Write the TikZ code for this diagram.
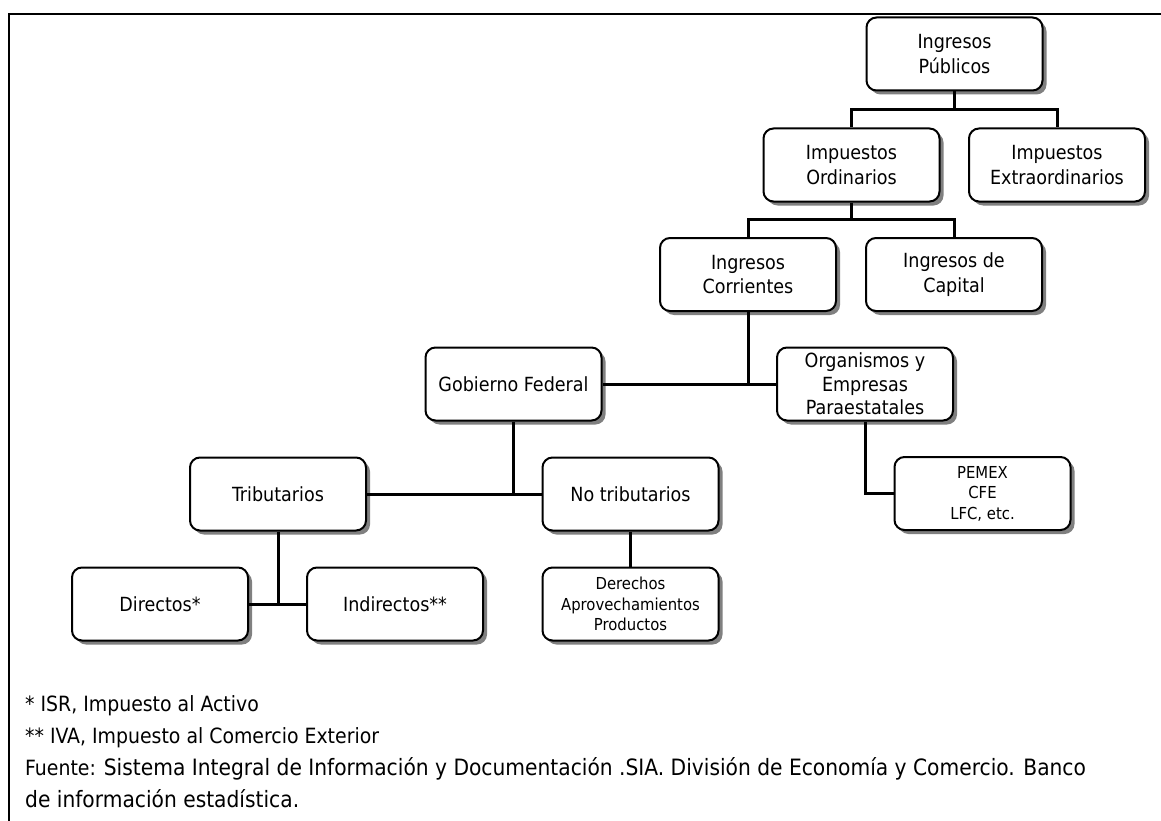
\documentclass[tikz,border=0pt]{standalone}
\usepackage{fontspec}
\setmainfont{DejaVu Sans Condensed}
\usetikzlibrary{shadows}

\newcommand\srcfont{\fontsize{22.5}{26}\selectfont}

\tikzset{
  box/.style={draw, line width=2pt, rounded corners=10pt, fill=white,
    minimum width=176pt, minimum height=73pt, inner sep=0pt, align=center,
    font=\fontsize{19.5}{24.5}\selectfont,
    drop shadow={shadow xshift=4pt, shadow yshift=-4pt, fill=black!50, opacity=1}},
  smallbox/.style={box, font=\fontsize{16.5}{20.5}\selectfont},
  tallbox/.style={box, font=\fontsize{19.5}{23.5}\selectfont},
  conn/.style={line width=3pt},
  frame/.style={line width=2.6pt},
  note/.style={anchor=base west, inner sep=0pt, font=\fontsize{21}{24}\selectfont},
}

\begin{document}
\begin{tikzpicture}[x=1pt, y=-1pt]
  \useasboundingbox (0,0) rectangle (1161,821);

  % open frame: top and left rules
  \coordinate (fr1) at (1161,14);
  \coordinate (fr2) at (9,14);
  \coordinate (fr3) at (9,821);
  \draw[frame] (fr1) -- (fr2) -- (fr3);

  % boxes
  \node[box] (pub)  at (954.5,54)  {Ingresos\\Públicos};
  \node[box] (ord)  at (851.5,165) {Impuestos\\Ordinarios};
  \node[box] (ext)  at (1057,165)  {Impuestos\\Extraordinarios};
  \node[box] (cor)  at (748,274.5) {Ingresos\\Corrientes};
  \node[box] (cap)  at (954,274.5) {Ingresos de\\Capital};
  \node[box] (gob)  at (513.5,384) {Gobierno Federal};
  \node[tallbox] (org) at (865,384) {Organismos y\\Empresas\\Paraestatales};
  \node[box] (trib) at (278,494)   {Tributarios};
  \node[box] (notr) at (630.5,494) {No tributarios};
  \node[smallbox] (pem) at (982.5,493.5) {PEMEX\\CFE\\LFC, etc.};
  \node[box] (dir)  at (160,604)   {Directos*};
  \node[box] (ind)  at (395,604)   {Indirectos**};
  \node[smallbox] (der) at (630.5,604) {Derechos\\Aprovechamientos\\Productos};

  % junction points
  \coordinate (j1) at (954.5,110);
  \coordinate (j2) at (851.5,219);

  % connectors
  \draw[conn] (pub.south) -- (j1);
  \draw[conn] (ord.north) |- (j1) -| (ext.north);
  \draw[conn] (ord.south) -- (j2);
  \draw[conn] (cor.north) |- (j2) -| (cap.north);
  \draw[conn] (gob.east) -- (org.west);
  \draw[conn] (cor.south) -- (cor.south |- gob.east);
  \draw[conn] (org.south) |- (pem.west);
  \draw[conn] (trib.east) -- (notr.west);
  \draw[conn] (gob.south) -- (gob.south |- trib.east);
  \draw[conn] (notr.south) -- (der.north);
  \draw[conn] (dir.east) -- (ind.west);
  \draw[conn] (trib.south) -- (trib.south |- dir.east);

  % notes
  \node[note] (n1) at (25,711) {* ISR, Impuesto al Activo};
  \node[note] (n2) at (25,743) {** IVA, Impuesto al Comercio Exterior};
  \node[note] (n3) at (25,775) {Fuente: {\srcfont Sistema Integral de Información y Documentación .SIA. División de Economía y Comercio. Banco}};
  \node[note, font=\srcfont] (n4) at (25,807) {de información estadística.};
\end{tikzpicture}
\end{document}
